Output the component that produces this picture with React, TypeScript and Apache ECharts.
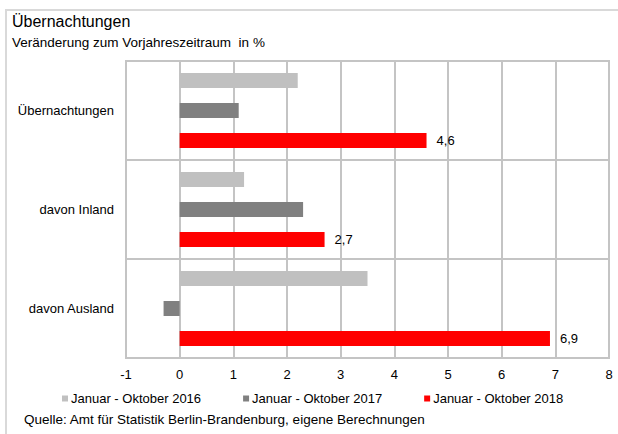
import React, { useEffect, useRef } from "react";
import * as echarts from "echarts";

const categories = ["Übernachtungen", "davon Inland", "davon Ausland"];
const seriesNames = ["Januar - Oktober 2016", "Januar - Oktober 2017", "Januar - Oktober 2018"];
const values2016 = [2.2, 1.2, 3.5];
const values2017 = [1.1, 2.3, -0.3];
const values2018 = [4.6, 2.7, 6.9];
const colors = ["#c0c0c0", "#808080", "#ff0000"];

const FONT = "Liberation Sans, Arial, sans-serif";

export default function App() {
  const ref = useRef<HTMLDivElement>(null);
  useEffect(() => {
    if (!ref.current) return;
    const chart = echarts.init(ref.current, undefined, { renderer: "svg" });
    const data = [values2016, values2017, values2018];
    chart.setOption({
      animation: false,
      textStyle: { fontFamily: FONT },
      legend: {
        left: 57,
        top: 387,
        icon: "rect",
        itemWidth: 6,
        itemHeight: 6,
        itemGap: 42,
        textStyle: { fontFamily: FONT, fontSize: 13, color: "#000", padding: [0, 0, 0, -2] },
        data: seriesNames,
      },
      grid: {
        left: 126,
        top: 61,
        right: 9,
        bottom: 76,
        show: true,
        borderColor: "#c4c4c4",
        borderWidth: 2,
      },
      xAxis: {
        type: "value",
        min: -1,
        max: 8,
        interval: 1,
        axisLine: { show: false },
        axisTick: { show: false },
        axisLabel: { color: "#000", fontSize: 13, fontFamily: FONT, margin: 10 },
        splitLine: { show: true, lineStyle: { color: "#c4c4c4", width: 2 } },
      },
      yAxis: {
        type: "category",
        inverse: true,
        data: categories,
        axisLine: { show: false },
        axisTick: { show: false },
        axisLabel: { color: "#000", fontSize: 13, fontFamily: FONT, margin: 12 },
        splitLine: { show: true, lineStyle: { color: "#c4c4c4", width: 2 } },
      },
      series: seriesNames.map((name, i) => ({
        name,
        type: "bar",
        data: data[i],
        barWidth: 15,
        barGap: "100%",
        itemStyle: { color: colors[i] },
        label:
          i === 2
            ? {
                show: true,
                position: "right",
                distance: 10,
                color: "#000",
                fontSize: 13,
                fontFamily: FONT,
                formatter: (p: any) => String(p.value).replace(".", ","),
              }
            : { show: false },
      })),
      graphic: [
        {
          type: "rect",
          shape: { x: 6, y: 10, width: 640, height: 460 },
          style: { fill: "none", stroke: "#d9d9d9", lineWidth: 2 },
          silent: true,
        },
        {
          type: "text",
          x: 12,
          y: 21,
          style: {
            text: "Übernachtungen",
            fontFamily: FONT,
            fontSize: 16,
            fill: "#000",
            verticalAlign: "middle",
          },
        },
        {
          type: "text",
          x: 12,
          y: 42,
          style: {
            text: "Veränderung zum Vorjahreszeitraum  in %",
            fontFamily: FONT,
            fontSize: 13.5,
            fill: "#000",
            verticalAlign: "middle",
          },
        },
        {
          type: "text",
          x: 24,
          y: 419,
          style: {
            text: "Quelle: Amt für Statistik Berlin-Brandenburg, eigene Berechnungen",
            fontFamily: FONT,
            fontSize: 13.5,
            fill: "#000",
            verticalAlign: "middle",
          },
        },
      ],
    });
    return () => chart.dispose();
  }, []);
  return (
    <div
      ref={ref}
      style={{ position: "absolute", left: 0, top: 0, width: 618, height: 434 }}
    />
  );
}
